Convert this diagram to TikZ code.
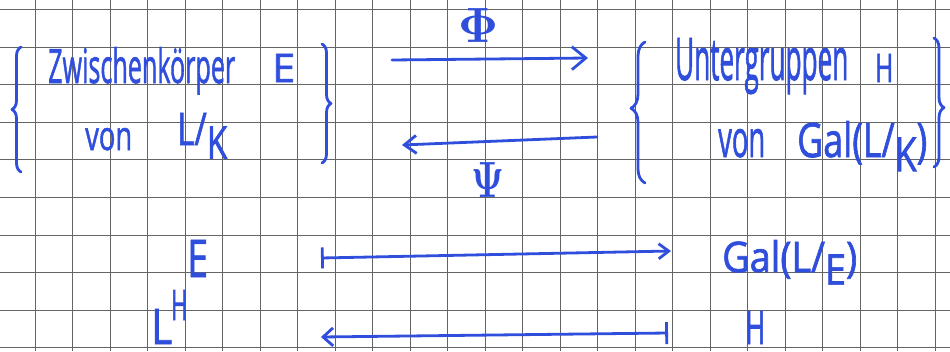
\documentclass[tikz,border=0pt]{standalone}
\usepackage[no-math]{fontspec}
\setmainfont{Open Sans}[FakeBold=1.6]
\usepackage{graphicx}
\usetikzlibrary{arrows.meta,decorations.pathreplacing}
\definecolor{ink}{RGB}{48,78,220}
\definecolor{gridc}{RGB}{100,100,100}
\newcommand{\hw}[3]{\resizebox{#1}{#2}{#3}}
\begin{document}
\begin{tikzpicture}[x=1pt,y=-1pt,
  txt/.style={inner sep=0pt, text=ink, anchor=base west},
  sym/.style={inner sep=0pt, text=ink},
  inkline/.style={draw=ink, line width=2.8pt, line cap=round, line join=round},
  brc/.style={inkline, decorate, decoration={brace, amplitude=#1}},
  gridline/.style={draw=gridc, line width=1pt}
]
\fill[white] (0,0) rectangle (950,351);
\useasboundingbox (0,0) rectangle (950,351);
% squared paper
\foreach \k in {0,...,24} \draw[gridline] ({35+37.5*\k},0) -- ({35+37.5*\k},351);
\foreach \k in {0,...,9} \draw[gridline] (0,{9.4+37.6*\k}) -- (950,{9.4+37.6*\k});

% left set
\node[txt] (zw) at (48,83) {\hw{187pt}{36pt}{Zwischenkörper}};
\node[txt] (eA) at (272,82) {\hw{23pt}{28pt}{E}};
\node[txt] (vonA) at (85,150) {\hw{47pt}{22pt}{von}};
\node[txt] (lkA) at (177,145) {\hw{50pt}{32pt}{L/\raisebox{-0.3em}{K}}};
\draw[brc=9pt] (21,172) -- (21,47);
\draw[brc=9pt] (322,44) -- (322,163);

% right set
\node[txt] (ug) at (675,80) {\hw{173pt}{42pt}{Untergruppen}};
\node[txt] (hA) at (875,82) {\hw{18pt}{28pt}{H}};
\node[txt] (vonB) at (718,157) {\hw{47pt}{28pt}{von}};
\node[txt] (galA) at (797,157) {\hw{130pt}{36pt}{Gal(L/\raisebox{-0.3em}{K})}};
\draw[brc=14pt, decoration={aspect=0.53}] (645,183) -- (645,42);
\draw[brc=10pt, decoration={aspect=0.54}] (934,38) -- (934,167);

% Phi / Psi
\node[sym] (phi) at (478,25) {\resizebox{40pt}{34pt}{$\mathbf{\Phi}$}};
\node[sym] (psi) at (488,180) {\resizebox{33pt}{35pt}{$\mathbf{\Psi}$}};
\coordinate (p1) at (392,60);
\coordinate (p2) at (588,58);
\draw[inkline, -{Straight Barb[length=14pt,width=23pt]}] (p1) -- (p2);
\coordinate (q1) at (597,137);
\coordinate (q2) at (402,145);
\draw[inkline, -{Straight Barb[length=12pt,width=18pt]}] (q1) -- (q2);

% element maps
\node[txt] (eB) at (187,277) {\hw{21pt}{37pt}{E}};
\node[txt] (galB) at (722,272) {\hw{135pt}{32pt}{Gal(L/\raisebox{-0.3em}{E})}};
\node[txt] (lH) at (151,344) {\hw{21pt}{35pt}{L}\kern-1pt\raisebox{24pt}{\hw{16pt}{30pt}{H}}};
\node[txt] (hB) at (745,344) {\hw{20pt}{33pt}{H}};
\coordinate (r1) at (321,258);
\coordinate (r2) at (671,251);
\draw[inkline, {Bar[width=21pt]}-{Straight Barb[length=10pt,width=15pt]}] (r1) -- (r2);
\coordinate (s1) at (668,333);
\coordinate (s2) at (321,337);
\draw[inkline, {Bar[width=22pt]}-{Straight Barb[length=10pt,width=18pt]}] (s1) -- (s2);
\end{tikzpicture}
\end{document}
